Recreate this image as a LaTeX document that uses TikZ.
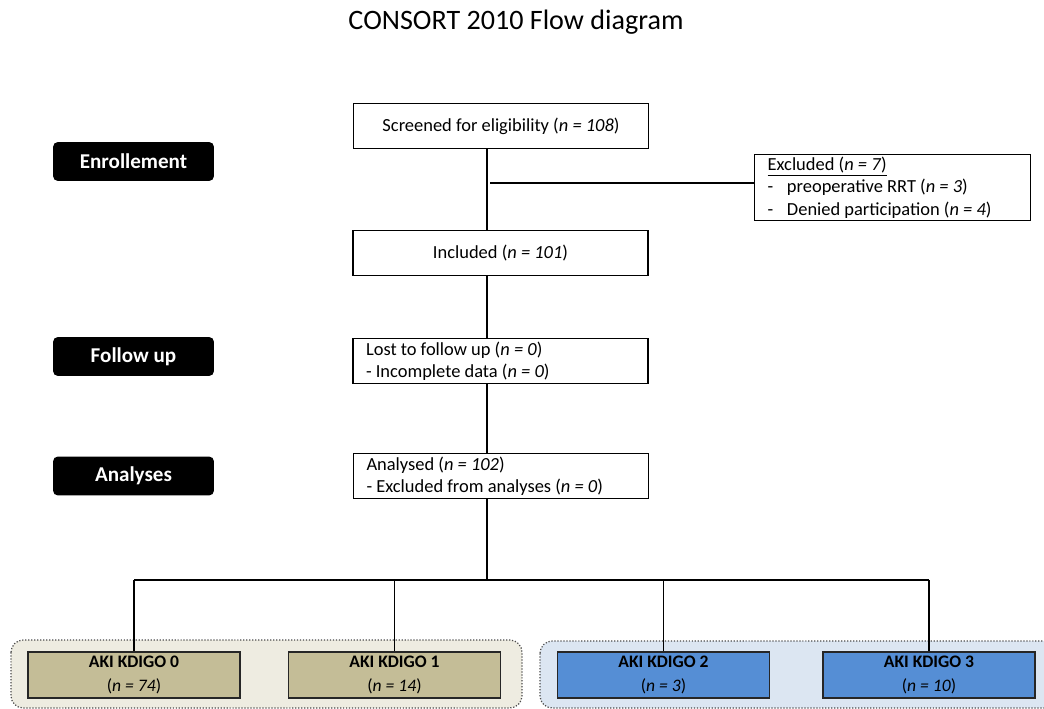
\documentclass[tikz,border=0pt]{standalone}
\usepackage{fontspec}
\setmainfont{Carlito}
\usetikzlibrary{positioning}
\definecolor{tanbg}{HTML}{EEECE1}
\definecolor{tanfill}{HTML}{C4BD97}
\definecolor{bluebg}{HTML}{DCE6F2}
\definecolor{bluefill}{HTML}{558ED5}
\tikzset{stagebox/.style = {fill, rounded corners=2.8pt, minimum width=3.22cm, minimum height=0.78cm,
                            text=white, font=\fontsize{12}{14}\selectfont\bfseries}}
\tikzset{flowbox/.style = {draw, minimum width=5.9cm, minimum height=0.9cm, font=\fontsize{10.5}{12.5}\selectfont}}
\tikzset{listbox/.style = {flowbox, align=left, text width=5.38cm, inner xsep=0.26cm, inner ysep=1pt,
                           execute at begin node={\spaceskip=0pt\xspaceskip=0pt\relax}}}
\tikzset{groupbox/.style = {draw=black!70, densely dotted, rounded corners=7pt}}
\tikzset{kdigobox/.style = {draw=black!85, line width=0.9pt, minimum width=4.24cm, minimum height=0.92cm,
                            align=center, inner ysep=1pt, font=\fontsize{10}{13.2}\selectfont,
                            execute at begin node={\spaceskip=0pt\xspaceskip=0pt\relax}}}

\begin{document}
\begin{tikzpicture}[x=0.02cm, y=-0.02cm, line width=0.7pt]
    \useasboundingbox (0,0) rectangle (1044,709);

    \node [font=\fontsize{16}{19}\selectfont] (title) at (516,22) {CONSORT 2010 Flow diagram};

    \node [stagebox] (enrol) at (133.5,161.5) {Enrollement};
    \node [stagebox] (follow) at (133.5,356.5) {Follow up};
    \node [stagebox] (analyses) at (133.5,476) {Analyses};

    \node [flowbox] (screened) at (501,126) {Screened for eligibility (\textit{n = 108})};
    \node [flowbox] (included) at (500.5,253) {Included (\textit{n = 101})};
    \node [listbox, font=\fontsize{10.5}{12.8}\selectfont] (lost) at (500.5,361)
          {Lost to follow up (\textit{n = 0})\\- Incomplete data (\textit{n = 0})};
    \node [listbox, font=\fontsize{10.5}{12.8}\selectfont] (analysed) at (501,476)
          {Analysed (\textit{n = 102})\\- Excluded from analyses (\textit{n = 0})};
    \node [listbox, anchor=north west, minimum width=5.52cm, minimum height=1.32cm, text width=5cm,
           font=\fontsize{10.5}{12.8}\selectfont] (excluded) at (754,154)
          {\underline{Excluded (\textit{n = 7})}\\
           \makebox[1.05em][l]{-}preoperative RRT (\textit{n = 3})\\
           \makebox[1.05em][l]{-}Denied participation (\textit{n = 4})};

    \draw [groupbox, fill=tanbg] (11,640) rectangle (522,708);
    \draw [groupbox, fill=bluebg] (540,641) rectangle (1070,708);

    \node [kdigobox, fill=tanfill] (k0) at (134,675) {\textbf{AKI KDIGO 0}\\(\textit{n = 74})};
    \node [kdigobox, fill=tanfill] (k1) at (394.5,675) {\textbf{AKI KDIGO 1}\\(\textit{n = 14})};
    \node [kdigobox, fill=bluefill] (k2) at (663.5,675) {\textbf{AKI KDIGO 2}\\(\textit{n = 3})};
    \node [kdigobox, fill=bluefill] (k3) at (929,675) {\textbf{AKI KDIGO 3}\\(\textit{n = 10})};

    \coordinate (split) at (487,580);
    \coordinate (branch) at (490,183);

    \draw (screened.south -| split) -- (included.north -| split);
    \draw (branch) -- (branch -| excluded.west);
    \draw (included.south -| split) -- (lost.north -| split);
    \draw (lost.south -| split) -- (analysed.north -| split);
    \draw (analysed.south -| split) -- (split);
    \draw (k0.north |- split) -- (k3.north |- split);
    \foreach \k in {k0,k1,k2,k3} {
      \draw (\k.north |- split) -- (\k.north);
    }
\end{tikzpicture}
\end{document}
